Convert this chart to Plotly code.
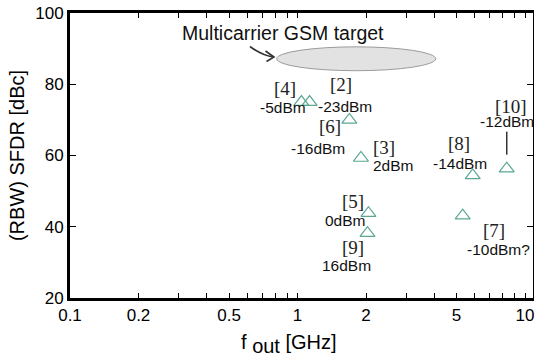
import math
import plotly.graph_objects as go

# ---------------- data ----------------
refs = ["[4]", "[2]", "[6]", "[3]", "[5]", "[9]", "[7]", "[8]", "[10]"]
power = ["-5dBm", "-23dBm", "-16dBm", "2dBm", "0dBm", "16dBm", "-10dBm?", "-14dBm", "-12dBm"]
f_out_ghz = [1.04, 1.13, 1.69, 1.90, 2.05, 2.03, 5.32, 5.89, 8.31]
sfdr_dbc = [75.0, 75.0, 70.0, 59.3, 43.8, 38.2, 43.1, 54.4, 56.3]

x_tick_vals = [0.1, 0.2, 0.5, 1, 2, 5, 10]
x_tick_text = ["0.1", "0.2", "0.5", "1", "2", "5", "10"]
x_minor_vals = [0.3, 0.4, 0.6, 0.7, 0.8, 0.9, 3, 4, 6, 7, 8, 9]
y_tick_vals = [20, 40, 60, 80, 100]

gsm_target_f = [0.81, 4.05]
gsm_target_sfdr = [83.8, 90.5]
gsm_label = "Multicarrier GSM target"
x_title = 'f <sub><span style="font-size:20px">out</span></sub> [GHz]'
y_title = "(RBW) SFDR [dBc]"

# ---------------- layout helpers ----------------
W, H = 536, 362
ML, MR, MT, MB = 70, 3, 13, 64
PW, PH = W - ML - MR, H - MT - MB

def px(x):
    """pixel x -> paper"""
    return (x - ML) / PW

def py(y):
    """pixel y -> paper"""
    return (MT + PH - y) / PH

# label offsets in pixels (dx right, dy down) from each marker
ref_off = [(-16, -14), (31, -18), (-19, 7), (23, -10), (-15, -12), (-14, 14), (31, 15), (-14, -32), (4, -62)]
pow_off = [(-18, 5), (35, 4), (-31, 29), (33, 8), (-23, 7), (-21, 32), (36, 34), (-13, -12), (0, -47)]

MARK = "#5aa893"
SANS = "Liberation Sans, Arial, sans-serif"
SERIF = "Liberation Serif, Times New Roman, serif"

fig = go.Figure()
fig.add_trace(go.Scatter(
    x=f_out_ghz, y=sfdr_dbc, mode="markers",
    marker=dict(symbol="triangle-up-open", size=13, color=MARK, line=dict(width=1.2, color=MARK)),
    hoverinfo="x+y", showlegend=False, cliponaxis=False,
))
# invisible copy on the right-hand axis so that its line/ticks render
fig.add_trace(go.Scatter(
    x=f_out_ghz, y=sfdr_dbc, mode="markers", yaxis="y2",
    marker=dict(opacity=0), hoverinfo="skip", showlegend=False,
))

ann = []
for i in range(len(refs)):
    lx = math.log10(f_out_ghz[i])
    ann.append(dict(x=lx, y=sfdr_dbc[i], xref="x", yref="y", text=refs[i], showarrow=False,
                    xanchor="center", yanchor="middle",
                    xshift=ref_off[i][0], yshift=-ref_off[i][1],
                    font=dict(family=SERIF, size=19, color="#222")))
    ann.append(dict(x=lx, y=sfdr_dbc[i], xref="x", yref="y", text=power[i], showarrow=False,
                    xanchor="center", yanchor="middle",
                    xshift=pow_off[i][0], yshift=-pow_off[i][1],
                    font=dict(family=SANS, size=15.5, color="#111")))

ann.append(dict(x=px(283), y=py(33), xref="paper", yref="paper", text=gsm_label, showarrow=False,
                xanchor="center", yanchor="middle",
                font=dict(family=SANS, size=19.5, color="#111")))
ann.append(dict(x=px(289), y=py(344), xref="paper", yref="paper", text=x_title, showarrow=False,
                xanchor="center", yanchor="middle",
                font=dict(family=SANS, size=20, color="black")))

shapes = [
    dict(type="circle", xref="x", yref="y", x0=gsm_target_f[0], x1=gsm_target_f[1],
         y0=gsm_target_sfdr[0], y1=gsm_target_sfdr[1],
         fillcolor="#e2e2e2", line=dict(color="#9c9c9c", width=1)),
    # curved pointer arrow
    dict(type="path", xref="paper", yref="paper",
         path=f"M {px(250)},{py(46.5)} Q {px(262)},{py(55.5)} {px(273.5)},{py(57)}",
         line=dict(color="#333", width=1.6)),
    dict(type="path", xref="paper", yref="paper",
         path=f"M {px(265.5)},{py(51)} L {px(274)},{py(57)} L {px(266.5)},{py(61.5)}",
         line=dict(color="#333", width=1.6)),
    # leader line for [10]
    dict(type="line", xref="x", yref="y", x0=f_out_ghz[8], x1=f_out_ghz[8],
         ysizemode="pixel", yanchor=sfdr_dbc[8], y0=14, y1=37,
         line=dict(color="#333", width=1.5)),
]

fig.update_layout(
    width=W, height=H,
    margin=dict(l=ML, r=MR, t=MT, b=MB, autoexpand=False),
    paper_bgcolor="white", plot_bgcolor="white",
    font=dict(family=SANS, color="black"),
    xaxis=dict(
        type="log", range=[-1, 1.035],
        tickmode="array", tickvals=x_tick_vals, ticktext=x_tick_text,
        ticks="inside", ticklen=5, tickwidth=1, tickcolor="black",
        minor=dict(tickmode="array", tickvals=x_minor_vals, ticks="inside", ticklen=5, tickwidth=1, tickcolor="black"),
        showline=True, linewidth=3, linecolor="black", mirror="ticks",
        showgrid=False, zeroline=False, ticklabeloverflow="allow",
        tickfont=dict(size=17, family=SANS, color="black"),
    ),
    yaxis=dict(
        range=[20, 100], tickmode="array", tickvals=y_tick_vals,
        ticks="inside", ticklen=6, tickwidth=1, tickcolor="black",
        showline=True, linewidth=3, linecolor="black", mirror=False,
        showgrid=False, zeroline=False, ticklabeloverflow="allow",
        tickfont=dict(size=17, family=SANS, color="black"),
        title=dict(text=y_title, font=dict(size=20, family=SANS, color="black"), standoff=6),
    ),
    yaxis2=dict(
        range=[20, 100], overlaying="y", side="right", tickmode="array", tickvals=y_tick_vals,
        ticks="inside", ticklen=6, tickwidth=1, tickcolor="black",
        showline=True, linewidth=1, linecolor="black",
        showticklabels=False, showgrid=False, zeroline=False,
    ),
    annotations=ann, shapes=shapes,
)

# remove the default page margin so the figure sits at the window's top-left corner
fig.write_html("out.html",
               config={"displayModeBar": False},
               post_script="document.body.style.margin='0';"
                           "document.documentElement.style.overflow='hidden';")
